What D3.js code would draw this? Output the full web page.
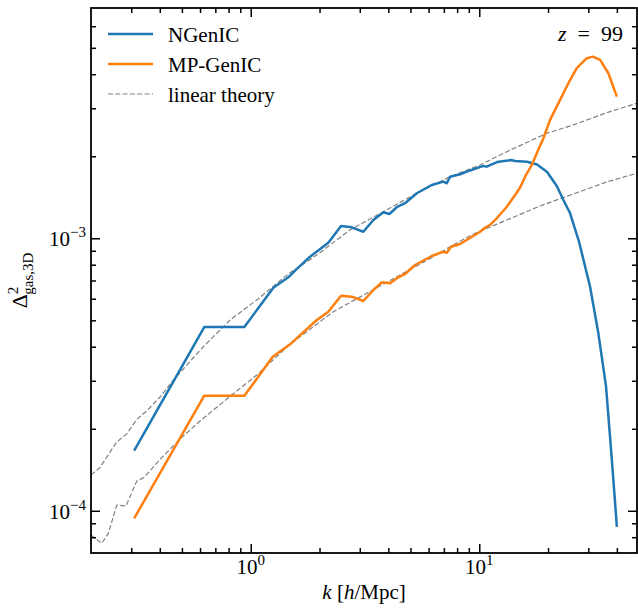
<!DOCTYPE html>
<html>
<head>
<meta charset="utf-8">
<script src="https://cdn.jsdelivr.net/npm/d3@7"></script>
<style>
  body { margin: 0; background: #fff; }
  svg { display: block; }
  text { font-family: "Liberation Serif", "DejaVu Serif", serif; fill: #000; }
</style>
</head>
<body>
<div id="chart"></div>
<script>
// k [h/Mpc] and Delta^2 values
const ngenicK = [0.309, 0.626, 0.938, 1.256, 1.471, 1.563, 1.817, 2.186, 2.484, 2.767, 3.110, 3.440, 3.804,
    4.043, 4.354, 4.734, 5.328, 6.196, 6.965, 7.207, 7.451, 8.241, 9.116, 10.42, 10.78, 11.96, 13.78, 14.35,
    16.19, 17.91, 19.81, 21.84, 23.34, 24.97, 27.34, 30.54, 33.20, 35.88, 37.74, 39.01, 40.0];
const ngenicD = [1.661e-4, 4.725e-4, 4.725e-4, 6.587e-4, 7.228e-4, 7.605e-4, 8.559e-4, 9.634e-4, 1.110e-3,
    1.097e-3, 1.057e-3, 1.167e-3, 1.246e-3, 1.228e-3, 1.300e-3, 1.345e-3, 1.463e-3, 1.569e-3, 1.614e-3,
    1.592e-3, 1.683e-3, 1.718e-3, 1.774e-3, 1.843e-3, 1.832e-3, 1.905e-3, 1.938e-3, 1.922e-3, 1.910e-3,
    1.866e-3, 1.752e-3, 1.556e-3, 1.382e-3, 1.235e-3, 9.692e-4, 6.643e-4, 4.479e-4, 2.851e-4, 1.671e-4,
    1.158e-4, 8.734e-5];

const mpgenicK = [0.309, 0.626, 0.938, 1.248, 1.486, 1.945, 2.186, 2.484, 2.767, 3.110, 3.440, 3.744, 4.071,
    4.426, 4.734, 5.236, 6.196, 6.965, 7.207, 7.527, 8.241, 8.961, 10.08, 10.60, 11.15, 11.93, 13.20, 14.35,
    15.09, 15.87, 16.98, 17.85, 19.08, 20.41, 22.58, 24.55, 26.71, 29.54, 31.38, 33.79, 36.73, 40.0];
const mpgenicD = [9.378e-5, 2.644e-4, 2.644e-4, 3.674e-4, 4.082e-4, 5.013e-4, 5.377e-4, 6.157e-4, 6.105e-4,
    5.887e-4, 6.460e-4, 6.894e-4, 6.836e-4, 7.192e-4, 7.396e-4, 7.980e-4, 8.610e-4, 8.929e-4, 8.855e-4,
    9.315e-4, 9.530e-4, 9.941e-4, 1.057e-3, 1.094e-3, 1.119e-3, 1.184e-3, 1.306e-3, 1.442e-3, 1.536e-3,
    1.683e-3, 1.858e-3, 2.051e-3, 2.328e-3, 2.719e-3, 3.219e-3, 3.707e-3, 4.208e-3, 4.579e-3, 4.641e-3,
    4.514e-3, 4.034e-3, 3.310e-3];

// linear theory, upper curve (NGenIC normalisation) and lower curve (MP-GenIC)
const linHighK = [0.200, 0.219, 0.2374, 0.2592, 0.2874, 0.3179, 0.3517, 0.401, 0.4584, 0.6202, 0.8116, 1.062,
    1.471, 1.945, 2.720, 3.804, 5.328, 7.451, 10.08, 13.20, 19.75, 25.81, 36.14, 49.05];
const linHighD = [1.353e-4, 1.441e-4, 1.601e-4, 1.788e-4, 1.920e-4, 2.171e-4, 2.332e-4, 2.615e-4, 3.019e-4,
    4.000e-4, 5.013e-4, 5.937e-4, 7.437e-4, 8.684e-4, 1.073e-3, 1.252e-3, 1.463e-3, 1.683e-3, 1.858e-3,
    2.079e-3, 2.429e-3, 2.606e-3, 2.891e-3, 3.131e-3];
const linLowK = [0.200, 0.2228, 0.2381, 0.2592, 0.2846, 0.317, 0.3412, 0.405, 0.4904, 0.5999, 0.7852, 1.062,
    1.471, 2.298, 3.219, 4.501, 6.297, 7.451, 9.423, 13.20, 18.45, 25.81, 36.14, 49.05];
const linLowD = [8.143e-5, 7.593e-5, 8.260e-5, 1.049e-4, 1.041e-4, 1.285e-4, 1.324e-4, 1.557e-4, 1.833e-4,
    2.135e-4, 2.570e-4, 3.148e-4, 4.058e-4, 5.377e-4, 6.283e-4, 7.334e-4, 8.559e-4, 9.315e-4, 1.037e-3,
    1.167e-3, 1.314e-3, 1.454e-3, 1.610e-3, 1.733e-3];

// ticks
const xMajor = [1, 10];
const xMajorExp = ["0", "1"];
const xMinor = [0.3, 0.4, 0.5, 0.6, 0.7, 0.8, 0.9, 2, 3, 4, 5, 6, 7, 8, 9, 20, 30, 40];
const yMajor = [1e-4, 1e-3];
const yMajorExp = ["\u22124", "\u22123"];
const yMinor = [8e-5, 9e-5, 2e-4, 3e-4, 4e-4, 5e-4, 6e-4, 7e-4, 8e-4, 9e-4,
    2e-3, 3e-3, 4e-3, 5e-3, 6e-3];

const blue = "#1f77b4", orange = "#ff7f0e", grey = "#808080";

const margin = {top: 8, right: 1, bottom: 56, left: 91};
const width = 638 - margin.left - margin.right;
const height = 609 - margin.top - margin.bottom;

const svg = d3.select("#chart")
    .append("svg")
    .attr("width", 638)
    .attr("height", 609);

const g = svg.append("g")
    .attr("transform", `translate(${margin.left}, ${margin.top})`);

const x = d3.scaleLog().domain([0.2, 49]).range([0, width]);
const y = d3.scaleLog().domain([7e-5, 7e-3]).range([height, 0]);

g.append("clipPath").attr("id", "clip")
    .append("rect").attr("width", width).attr("height", height);

const line = d3.line().x(d => x(d[0])).y(d => y(d[1]));
const pairs = (ks, ds) => ks.map((k, i) => [k, ds[i]]);

const plot = g.append("g").attr("clip-path", "url(#clip)");

// linear theory first, the measured spectra on top
[pairs(linHighK, linHighD), pairs(linLowK, linLowD)].forEach(d => {
    plot.append("path")
        .datum(d)
        .attr("fill", "none")
        .attr("stroke", grey)
        .attr("stroke-width", 1.2)
        .attr("stroke-dasharray", "5,2.3")
        .attr("d", line);
});

plot.append("path")
    .datum(pairs(ngenicK, ngenicD))
    .attr("fill", "none")
    .attr("stroke", blue)
    .attr("stroke-width", 2.5)
    .attr("stroke-linejoin", "round")
    .attr("d", line);

plot.append("path")
    .datum(pairs(mpgenicK, mpgenicD))
    .attr("fill", "none")
    .attr("stroke", orange)
    .attr("stroke-width", 2.5)
    .attr("stroke-linejoin", "round")
    .attr("d", line);

// inward ticks on all four sides
function ticks(axis, values, size, transform) {
    const a = g.append("g")
        .attr("transform", transform)
        .call(axis.tickValues(values).tickSize(size).tickFormat(""));
    a.select(".domain").remove();
    a.selectAll("line").attr("stroke", "#000").attr("stroke-width", 1.5);
}
ticks(d3.axisBottom(x), xMajor, -9, `translate(0, ${height})`);
ticks(d3.axisBottom(x), xMinor, -5, `translate(0, ${height})`);
ticks(d3.axisTop(x), xMajor, -9, "translate(0, 0)");
ticks(d3.axisTop(x), xMinor, -5, "translate(0, 0)");
ticks(d3.axisLeft(y), yMajor, -9, "translate(0, 0)");
ticks(d3.axisLeft(y), yMinor, -5, "translate(0, 0)");
ticks(d3.axisRight(y), yMajor, -9, `translate(${width}, 0)`);
ticks(d3.axisRight(y), yMinor, -5, `translate(${width}, 0)`);

g.append("rect")
    .attr("width", width)
    .attr("height", height)
    .attr("fill", "none")
    .attr("stroke", "#000")
    .attr("stroke-width", 1.8);

// tick labels as 10^n
xMajor.forEach((v, i) => {
    const t = g.append("text")
        .attr("x", x(v))
        .attr("y", height + 21)
        .attr("text-anchor", "middle")
        .attr("font-size", 21);
    t.append("tspan").text("10");
    t.append("tspan").attr("dy", -9).attr("font-size", 15).text(xMajorExp[i]);
});

yMajor.forEach((v, i) => {
    const t = g.append("text")
        .attr("x", -5)
        .attr("y", y(v) + 8)
        .attr("text-anchor", "end")
        .attr("font-size", 21);
    t.append("tspan").text("10");
    t.append("tspan").attr("dy", -9).attr("font-size", 15).text(yMajorExp[i]);
});

// axis labels
const xl = svg.append("text")
    .attr("x", margin.left + width / 2)
    .attr("y", 599)
    .attr("text-anchor", "middle")
    .attr("font-size", 21);
xl.append("tspan").attr("font-style", "italic").text("k");
xl.append("tspan").text(" [");
xl.append("tspan").attr("font-style", "italic").text("h");
xl.append("tspan").text("/Mpc]");

const yl = svg.append("text")
    .attr("transform", `translate(27, ${margin.top + height / 2}) rotate(-90)`)
    .attr("text-anchor", "middle")
    .attr("font-size", 22);
yl.append("tspan").text("\u0394");
yl.append("tspan").attr("dy", -9).attr("font-size", 15).text("2");
yl.append("tspan").attr("dx", -8).attr("dy", 15).attr("font-size", 15).text("gas,3D");

// redshift label
const zl = g.append("text")
    .attr("x", 532)
    .attr("y", 33)
    .attr("text-anchor", "end")
    .attr("font-size", 22);
zl.append("tspan").attr("font-style", "italic").text("z");
zl.append("tspan").text("\u2002=\u200299");

// legend
const legend = [
    {name: "NGenIC", color: blue, width: 2.5, dash: null},
    {name: "MP-GenIC", color: orange, width: 2.5, dash: null},
    {name: "linear theory", color: grey, width: 1.2, dash: "5,2.3"}
];
const lg = g.append("g").attr("transform", "translate(17, 26)");
legend.forEach((d, i) => {
    lg.append("line")
        .attr("x1", 0).attr("x2", 45)
        .attr("y1", i * 30).attr("y2", i * 30)
        .attr("stroke", d.color)
        .attr("stroke-width", d.width)
        .attr("stroke-dasharray", d.dash);
    lg.append("text")
        .attr("x", 60)
        .attr("y", i * 30 + 8)
        .attr("font-size", 21)
        .text(d.name);
});
</script>
</body>
</html>
